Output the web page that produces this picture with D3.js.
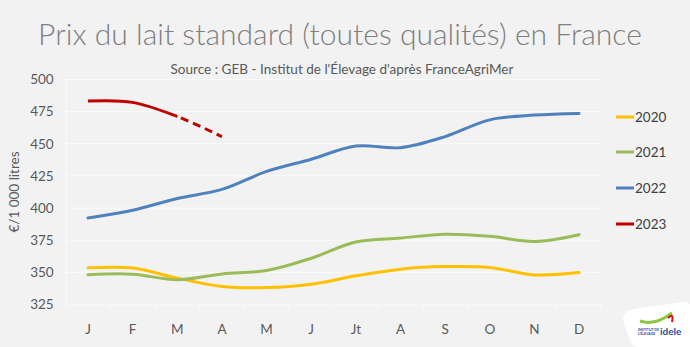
<!DOCTYPE html>
<html>
<head>
<meta charset="utf-8">
<script src="https://cdn.jsdelivr.net/npm/d3@7"></script>
<style>
  html, body { margin: 0; padding: 0; background: #F2F2F2; }
  svg { display: block; }
  text { font-family: "Lato", "Open Sans", sans-serif; }
</style>
</head>
<body>
<svg id="chart" width="690" height="347"></svg>
<script>
const months = ["J", "F", "M", "A", "M", "J", "Jt", "A", "S", "O", "N", "D"];
const yTicks = [325, 350, 375, 400, 425, 450, 475, 500];
const seriesNames = ["2020", "2021", "2022", "2023"];
const values2020 = [353.5, 353.3, 345.5, 339, 338.2, 340.8, 347.3, 352.5, 354.5, 353.8, 348, 349.8];
const values2021 = [348.2, 348.6, 344.3, 348.8, 351.5, 361, 373.6, 376.7, 379.6, 378, 374, 379.3];
const values2022 = [392.3, 398.3, 407.5, 414.5, 428.5, 438, 448.3, 447, 455.6, 468.6, 472.3, 473.6];
const values2023 = [483.2, 482.2, 471.2, 455.6];
const seriesColors = ["#FFC000", "#9BBB59", "#4F81BD", "#C00000"];
const titleText = "Prix du lait standard (toutes qualités) en France";
const subtitleText = "Source : GEB - Institut de l'Élevage d'après FranceAgriMer";
const yAxisTitle = "€/1 000 litres";

const svg = d3.select("#chart");
const W = 690, H = 347;
svg.append("rect").attr("width", W).attr("height", H).attr("fill", "#F2F2F2");

const plot = { left: 65.7, right: 601.4, top: 79.5, bottom: 304.5 };

const x = d3.scaleBand().domain(d3.range(months.length)).range([plot.left, plot.right]).padding(0);
const y = d3.scaleLinear().domain([325, 500]).range([plot.bottom, plot.top]);
const cx = i => x(i) + x.bandwidth() / 2;

function fitText(sel, target) {
  const len = sel.node().getComputedTextLength();
  const fs = parseFloat(sel.attr("font-size"));
  sel.attr("font-size", fs * target / len);
}
const title = svg.append("text").attr("x", 340).attr("y", 45).attr("text-anchor", "middle")
  .attr("font-size", 28).attr("fill", "#7F7F7F").attr("font-weight", 300).text(titleText);
fitText(title, 604);
const sub = svg.append("text").attr("x", 342).attr("y", 74).attr("text-anchor", "middle")
  .attr("font-size", 12).attr("fill", "#595959").attr("font-family", "'Open Sans', sans-serif")
  .text(subtitleText);
fitText(sub, 343);

// Gridlines
svg.append("g").selectAll("line").data(yTicks.filter(t => t > 325)).join("line")
  .attr("x1", plot.left).attr("x2", plot.right)
  .attr("y1", d => y(d)).attr("y2", d => y(d))
  .attr("stroke", "#FBFBFB").attr("stroke-width", 1);

// Y axis
const yAxis = d3.axisLeft(y).tickValues(yTicks).tickSize(0).tickPadding(12);
const gy = svg.append("g").attr("transform", `translate(${plot.left},0)`).call(yAxis);
gy.select(".domain").attr("stroke", "#FBFBFB");
gy.selectAll("text").attr("font-size", 13.5).attr("fill", "#595959")
  .attr("font-family", "Lato, 'Open Sans', sans-serif");

// X axis
const xAxis = d3.axisBottom(x).tickFormat(i => months[i]).tickSize(0).tickPadding(20);
const gx = svg.append("g").attr("transform", `translate(0,${plot.bottom})`).call(xAxis);
gx.select(".domain").attr("stroke", "#FBFBFB");
gx.selectAll("text").attr("font-size", 13.5).attr("fill", "#595959")
  .attr("font-family", "Lato, 'Open Sans', sans-serif");
gx.append("g").selectAll("line").data(d3.range(months.length + 1)).join("line")
  .attr("x1", i => plot.left + i * x.bandwidth()).attr("x2", i => plot.left + i * x.bandwidth())
  .attr("y1", 0).attr("y2", 5).attr("stroke", "#FBFBFB");

svg.append("text").attr("transform", "translate(19,192) rotate(-90)")
  .attr("text-anchor", "middle").attr("font-size", 13.5).attr("fill", "#595959").text(yAxisTitle);

// Lines
const line = d3.line().x(d => cx(d.i)).y(d => y(d.v)).curve(d3.curveCatmullRom.alpha(0.5));
const allSeries = [values2020, values2021, values2022];
allSeries.forEach((vals, k) => {
  svg.append("path").datum(vals.map((v, i) => ({ i, v })))
    .attr("d", line).attr("fill", "none").attr("stroke", seriesColors[k])
    .attr("stroke-width", 3).attr("stroke-linecap", "round");
});
const pts23 = values2023.map((v, i) => ({ i, v }));
const path23 = svg.append("path").datum(pts23).attr("d", line).attr("fill", "none")
  .attr("stroke", seriesColors[3]).attr("stroke-width", 3);
const totalLen = path23.node().getTotalLength();
let lo = 0, hi = totalLen;
const mx = cx(2);
for (let k = 0; k < 40; k++) {
  const mid = (lo + hi) / 2;
  if (path23.node().getPointAtLength(mid).x < mx) lo = mid; else hi = mid;
}
const solidLen = lo;
const rem = totalLen - solidLen;
const dashArr = [solidLen, 4];
let acc = 4;
while (acc < rem) { dashArr.push(8, 5); acc += 13; }
path23.attr("stroke-dasharray", dashArr.join(","));

// Legend
const legend = svg.append("g");
const legY = [117, 152, 188, 224];
seriesNames.forEach((name, k) => {
  legend.append("line").attr("x1", 616).attr("x2", 634).attr("y1", legY[k]).attr("y2", legY[k])
    .attr("stroke", seriesColors[k]).attr("stroke-width", 3);
  legend.append("text").attr("x", 635).attr("y", legY[k] + 5).attr("font-size", 13.5)
    .attr("fill", "#404040").text(name);
});

// Logo (simplified)
const logo = svg.append("g");
logo.append("path")
  .attr("d", "M624,324 Q620,312 634,309 L684,302 Q692,301 690,312 L690,347 L638,347 Q632,347 630,340 Z")
  .attr("fill", "#FFFFFF");
logo.append("path").attr("d", "M640,321 Q655,326 672,313").attr("fill", "none")
  .attr("stroke", "#8DC63F").attr("stroke-width", 3);
logo.append("path").attr("d", "M668,318 Q674,312 672,322").attr("fill", "none")
  .attr("stroke", "#E30613").attr("stroke-width", 2);
logo.append("text").attr("x", 638).attr("y", 331).attr("font-size", 3.5).attr("fill", "#1F4E9A")
  .attr("font-weight", 700).text("INSTITUT DE");
logo.append("text").attr("x", 638).attr("y", 335).attr("font-size", 3.5).attr("fill", "#1F4E9A")
  .attr("font-weight", 700).text("L'ÉLEVAGE");
logo.append("text").attr("x", 660).attr("y", 335).attr("font-size", 10).attr("fill", "#1F4E9A")
  .attr("font-weight", 700).text("idele");
</script>
</body>
</html>
